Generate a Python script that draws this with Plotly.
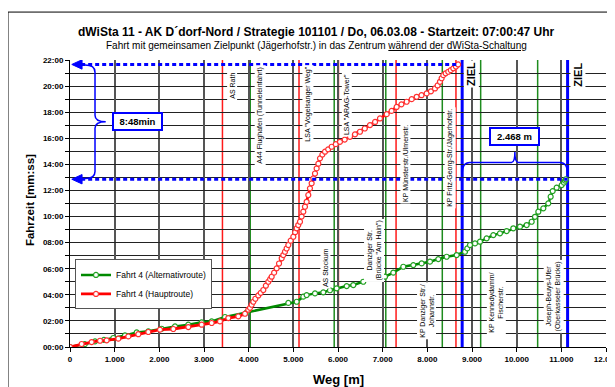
import plotly.graph_objects as go

# ---------------- data ----------------
haupt_weg = [0, 261, 485, 672, 821, 1082, 1306, 1530, 1753, 2015,
             2313, 2649, 2948, 3172, 3358, 3545, 3768, 3918, 3992, 4030,
             4067, 4104, 4150, 4216, 4270, 4328, 4385, 4440, 4480, 4515,
             4570, 4627, 4680, 4739, 4775, 4813, 4850, 4888, 4940, 5000,
             5040, 5075, 5110, 5149, 5185, 5223, 5260, 5298, 5335, 5372,
             5410, 5447, 5485, 5522, 5560, 5597, 5650, 5709, 5780, 5858,
             5950, 6044, 6150, 6268, 6380, 6492, 6600, 6716, 6830, 6940,
             7090, 7200, 7313, 7420, 7537, 7650, 7761, 7870, 7985, 8080,
             8171, 8230, 8283, 8320, 8358, 8410, 8469, 8525, 8581, 8640,
             8690]
haupt_zeit = [0, 0.23, 0.38, 0.48, 0.51, 0.64, 0.81, 0.98, 1.15, 1.33,
              1.38, 1.53, 1.71, 1.84, 1.96, 2.22, 2.35, 2.55, 2.86, 3.0,
              3.24, 3.47, 3.7, 3.95, 4.15, 4.37, 4.7, 5.0, 5.2, 5.39,
              5.7, 6.03, 6.4, 6.8, 7.05, 7.3, 7.55, 7.82, 8.15, 8.45,
              8.8, 9.1, 9.35, 9.6, 10.0, 10.37, 10.75, 11.13, 11.65, 12.16,
              12.55, 12.93, 13.3, 13.69, 14.05, 14.46, 14.75, 14.97, 15.15, 15.35,
              15.55, 15.73, 15.9, 16.11, 16.3, 16.5, 16.75, 17.01, 17.25, 17.52,
              17.85, 18.1, 18.4, 18.6, 18.8, 19.0, 19.18, 19.3, 19.44, 19.6,
              19.82, 20.05, 20.33, 20.6, 20.84, 20.98, 21.1, 21.22, 21.36, 21.5,
              21.66]

alt_weg = [0, 330, 560, 760, 970, 1231, 1493, 1753, 2050, 2351,
           2649, 2948, 3172, 3470, 3955, 4888, 5075, 5223, 5298, 5485,
           5671, 5820, 5970, 6194, 6343, 6566, 6790, 7052, 7238, 7462,
           7686, 7873, 8059, 8246, 8433, 8657, 8843, 8895, 8955, 9067,
           9179, 9328, 9477, 9626, 9776, 9925, 10074, 10224, 10336, 10410,
           10485, 10597, 10708, 10761, 10806, 10895, 11007, 11059, 11082, 11100]
alt_zeit = [0, 0.22, 0.43, 0.55, 0.69, 0.89, 1.12, 1.2, 1.4, 1.58,
            1.71, 1.89, 1.96, 2.3, 2.65, 3.38, 3.47, 3.86, 3.98, 4.11,
            4.19, 4.35, 4.5, 4.67, 4.75, 5.0, 5.26, 5.39, 5.7, 6.15,
            6.28, 6.41, 6.54, 6.74, 6.92, 7.05, 7.3, 7.56, 7.82, 7.94,
            8.07, 8.33, 8.58, 8.71, 8.89, 9.1, 9.22, 9.35, 9.6, 9.98,
            10.37, 10.63, 11.01, 11.52, 11.95, 12.21, 12.41, 12.6, 12.75, 12.86]

x_ticks = [0, 1000, 2000, 3000, 4000, 5000, 6000, 7000, 8000, 9000, 10000, 11000, 12000]
x_ticklabels = ["0", "1.000", "2.000", "3.000", "4.000", "5.000", "6.000",
                "7.000", "8.000", "9.000", "10.000", "11.000", "12.000"]
y_ticks = [0, 2, 4, 6, 8, 10, 12, 14, 16, 18, 20, 22]
y_ticklabels = ["00:00", "02:00", "04:00", "06:00", "08:00", "10:00",
                "12:00", "14:00", "16:00", "18:00", "20:00", "22:00"]

event_x = [3413, 4035, 5127, 5915, 6010, 7070, 7300, 8335, 8641, 8780, 9194, 10470, 11140]
event_kind = ["haupt", "alt", "haupt", "alt", "haupt", "alt", "haupt", "alt",
              "haupt", "ziel", "alt", "alt", "ziel"]
event_names = ["AS Rath", "A44 Flughafen (Tunneleinfahrt)", 'LSA "Vogelsanger Weg"',
               "AS Stockum", 'LSA "ARAG-Tower"', 'Danziger Str.<br>(Brücke "Am Hain")',
               "KP Münsterstr./Ulmenstr.", "KP Danziger Str./<br>Johannstr.",
               "KP Fritz-Georg-Str./Jägerhofstr.", "ZIEL",
               "KP Kennedydamm/<br>Fischerstr.", "Joseph-Beuys-Ufer<br>(Oberkasseler Brücke)", "ZIEL"]

diff_time_label = "8:48min"
diff_dist_label = "2.468 m"

# ---------------- layout helpers (positions / styles) ----------------
label_pos = [(3620, 20.0), (4253, 17.8), (5335, 18.6), (5709, 6.05), (6194, 18.6),
             (6806, 7.4), (7499, 14.1), (7985, 2.75), (8507, 14.5), (8993, 20.9),
             (9537, 3.4), (10820, 3.9), (11380, 20.9)]
kind_color = {"haupt": "#ff1a1a", "alt": "#1e8c1e", "ziel": "#0000ff"}
kind_width = {"haupt": 1.5, "alt": 1.5, "ziel": 3}

FONT = "Arial, Liberation Sans, sans-serif"
RED = "#ff0000"
GREEN = "#008a00"
BLUE = "#0000ff"

fig = go.Figure()

fig.add_trace(go.Scatter(
    x=alt_weg, y=alt_zeit, mode="lines+markers", name="Fahrt 4 (Alternativroute)",
    line=dict(color=GREEN, width=2.5),
    marker=dict(symbol="circle", size=5, color="white", line=dict(color="#22a022", width=1.2)),
))
fig.add_trace(go.Scatter(
    x=haupt_weg, y=haupt_zeit, mode="lines+markers", name="Fahrt 4 (Hauptroute)",
    line=dict(color=RED, width=2.8),
    marker=dict(symbol="circle", size=5, color="white", line=dict(color="#ff3030", width=1.2)),
))

shapes = []
# event lines
for ex, kind in zip(event_x, event_kind):
    shapes.append(dict(type="line", xref="x", yref="paper", x0=ex, x1=ex, y0=0, y1=1,
                       line=dict(color=kind_color[kind], width=kind_width[kind]), layer="between"))

# dotted end-time lines + arrowheads
t_haupt = haupt_zeit[-1]
t_alt = alt_zeit[-1]
x_haupt_end = haupt_weg[-1]
for ty, xend in [(t_haupt, x_haupt_end), (t_alt, event_x[-1])]:
    shapes.append(dict(type="line", xref="x", yref="y", x0=250, x1=xend, y0=ty, y1=ty,
                       line=dict(color=BLUE, width=3, dash="4px,3px")))
    shapes.append(dict(type="path", xref="x", yref="y",
                       path=f"M 40,{ty} L 270,{ty + 0.36} L 270,{ty - 0.36} Z",
                       fillcolor=BLUE, line=dict(color=BLUE, width=1)))

# vertical brace (time difference)
mid_t = (t_haupt + t_alt) / 2
shapes.append(dict(type="path", xref="x", yref="y",
                   path=(f"M 336,{t_haupt - 0.05} Q 560,{t_haupt - 0.05} 560,{t_haupt - 0.6} "
                         f"L 560,{mid_t + 0.5} Q 560,{mid_t} 800,{mid_t} "
                         f"Q 560,{mid_t} 560,{mid_t - 0.5} "
                         f"L 560,{t_alt + 0.6} Q 560,{t_alt + 0.05} 336,{t_alt + 0.05}"),
                   line=dict(color=BLUE, width=1.5)))
# horizontal brace (distance difference)
xa, xb = event_x[9], event_x[-1]
xm = (xa + xb) / 2
shapes.append(dict(type="path", xref="x", yref="y",
                   path=(f"M {xa},13.3 Q {xa},14.15 {xa + 170},14.15 L {xm - 75},14.15 "
                         f"Q {xm},14.15 {xm},14.95 Q {xm},14.15 {xm + 75},14.15 "
                         f"L {xb - 170},14.15 Q {xb},14.15 {xb},13.3"),
                   line=dict(color=BLUE, width=1.5)))

# outer chart frame
shapes.append(dict(type="rect", xref="paper", yref="paper", x0=-0.1157, x1=1.06,
                   y0=-0.25, y1=1.167, line=dict(color="black", width=1)))

annotations = []
for name, kind, (lx, ly) in zip(event_names, event_kind, label_pos):
    if kind == "ziel":
        font = dict(family=FONT, size=11, color="black", weight="bold")
    else:
        font = dict(family=FONT, size=7, color="black")
    annotations.append(dict(x=lx, y=ly, xref="x", yref="y", text=name, showarrow=False,
                            xanchor="center", yanchor="middle",
                            textangle=-90, font=font, bgcolor="white", borderpad=1))

annotations.append(dict(x=1520, y=mid_t, xref="x", yref="y", text=f"<b>{diff_time_label}</b>",
                        showarrow=False, xanchor="center", yanchor="middle",
                        font=dict(family=FONT, size=9.5, color="black"),
                        bgcolor="white", bordercolor=BLUE, borderwidth=2, borderpad=2, width=43))
annotations.append(dict(x=xm, y=16.15, xref="x", yref="y", text=f"<b>{diff_dist_label}</b>",
                        showarrow=False, xanchor="center", yanchor="middle",
                        font=dict(family=FONT, size=9.5, color="black"),
                        bgcolor="white", bordercolor=BLUE, borderwidth=2, borderpad=2, width=43))

# titles
annotations.append(dict(x=0.460, y=1.0976, xref="paper", yref="paper", xanchor="center", yanchor="middle",
                        text="<b>dWiSta 11 - AK D´dorf-Nord / Strategie 101101 / Do, 06.03.08 - Startzeit: 07:00:47 Uhr</b>",
                        showarrow=False, font=dict(family=FONT, size=12, color="black")))
annotations.append(dict(x=0.460, y=1.0498, xref="paper", yref="paper", xanchor="center", yanchor="middle",
                        text="Fahrt mit gemeinsamen Zielpunkt (Jägerhofstr.) in das Zentrum <u>während der dWiSta-Schaltung</u>",
                        showarrow=False, font=dict(family=FONT, size=10, color="black")))
annotations.append(dict(x=0.5, y=-0.1115, xref="paper", yref="paper", xanchor="center", yanchor="middle",
                        text="<b>Weg [m]</b>",
                        showarrow=False, font=dict(family=FONT, size=13, color="black")))
annotations.append(dict(x=-0.0746, y=0.512, xref="paper", yref="paper", xanchor="center", yanchor="middle",
                        text="<b>Fahrzeit [mm:ss]</b>",
                        textangle=-90, showarrow=False, font=dict(family=FONT, size=11.5, color="black")))

# page body has an 8px margin -> figure is drawn 8px right/down, so compensate
fig.update_layout(
    width=607, height=379,
    margin=dict(l=62, r=9, t=52, b=40, autoexpand=False),
    paper_bgcolor="white", plot_bgcolor="white",
    font=dict(family=FONT, color="black"),
    shapes=shapes, annotations=annotations,
    showlegend=True,
    legend=dict(x=0.0093, y=0.305, xanchor="left", yanchor="top",
                bgcolor="white", bordercolor="#555", borderwidth=1,
                font=dict(family=FONT, size=8.5), itemwidth=30, tracegroupgap=0,
                traceorder="normal"),
    xaxis=dict(range=[0, 12000], tickvals=x_ticks, ticktext=x_ticklabels, automargin=False,
               ticklabeloverflow="allow",
               showgrid=True, gridcolor="#555", gridwidth=1.5, zeroline=False,
               showline=True, linecolor="black", linewidth=1, ticks="outside", ticklen=4,
               tickcolor="black", tickfont=dict(family=FONT, size=8, weight="bold")),
    yaxis=dict(range=[0, 22], tickvals=y_ticks, ticktext=y_ticklabels, automargin=False,
               showgrid=True, gridcolor="#222", gridwidth=1, zeroline=False,
               showline=True, linecolor="black", linewidth=1, ticks="outside", ticklen=4,
               tickcolor="black", tickfont=dict(family=FONT, size=8, weight="bold"),
               minor=dict(dtick=1, tick0=0, showgrid=True, gridcolor="#222", gridwidth=1,
                          ticks="outside", ticklen=4, tickcolor="black")),
)

fig.write_html("out.html")
